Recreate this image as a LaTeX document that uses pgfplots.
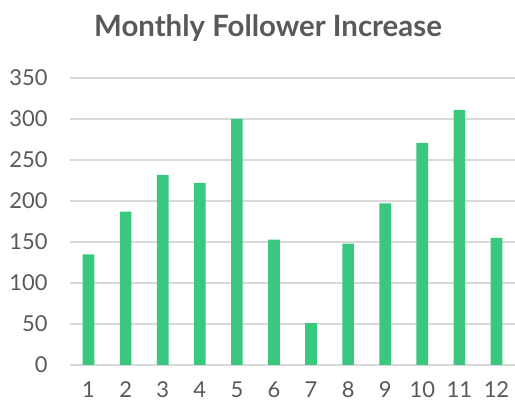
\documentclass[border=0pt]{standalone}
\usepackage{pgfplots}
\pgfplotsset{compat=1.18}
\usepackage{fontspec}
\setmainfont{Lato}
\definecolor{bargreen}{RGB}{58,199,126}
\definecolor{txtgray}{RGB}{89,89,89}
\definecolor{gridgray}{RGB}{217,217,217}
\begin{document}
\begin{tikzpicture}
\path[use as bounding box] (0,0) rectangle (515bp,403bp);
\node[anchor=base, font=\fontsize{29.5}{31}\selectfont\bfseries, text=txtgray] at (268bp,366bp) {Monthly Follower Increase};
\begin{axis}[
  at={(70bp,38bp)}, anchor=south west,
  scale only axis, width=445bp, height=287bp,
  xmin=0.5, xmax=12.5, ymin=0, ymax=350,
  ybar, bar width=11.7bp,
  xtick={1,...,12}, ytick={0,50,...,350},
  axis line style={draw=none},
  major tick length=0pt,
  ymajorgrids, grid style={gridgray, line width=1.5bp},
  /pgf/number format/assume math mode=true,
  tick label style={font=\fontsize{22}{23}\selectfont, text=txtgray},
  yticklabel style={xshift=-19bp},
  xticklabel style={yshift=-13.5bp},
]
\addplot[fill=bargreen, draw=none] coordinates {
(1,135) (2,187) (3,232) (4,222) (5,300) (6,153)
(7,51) (8,148) (9,197) (10,271) (11,311) (12,155)
};
\end{axis}
\end{tikzpicture}
\end{document}
